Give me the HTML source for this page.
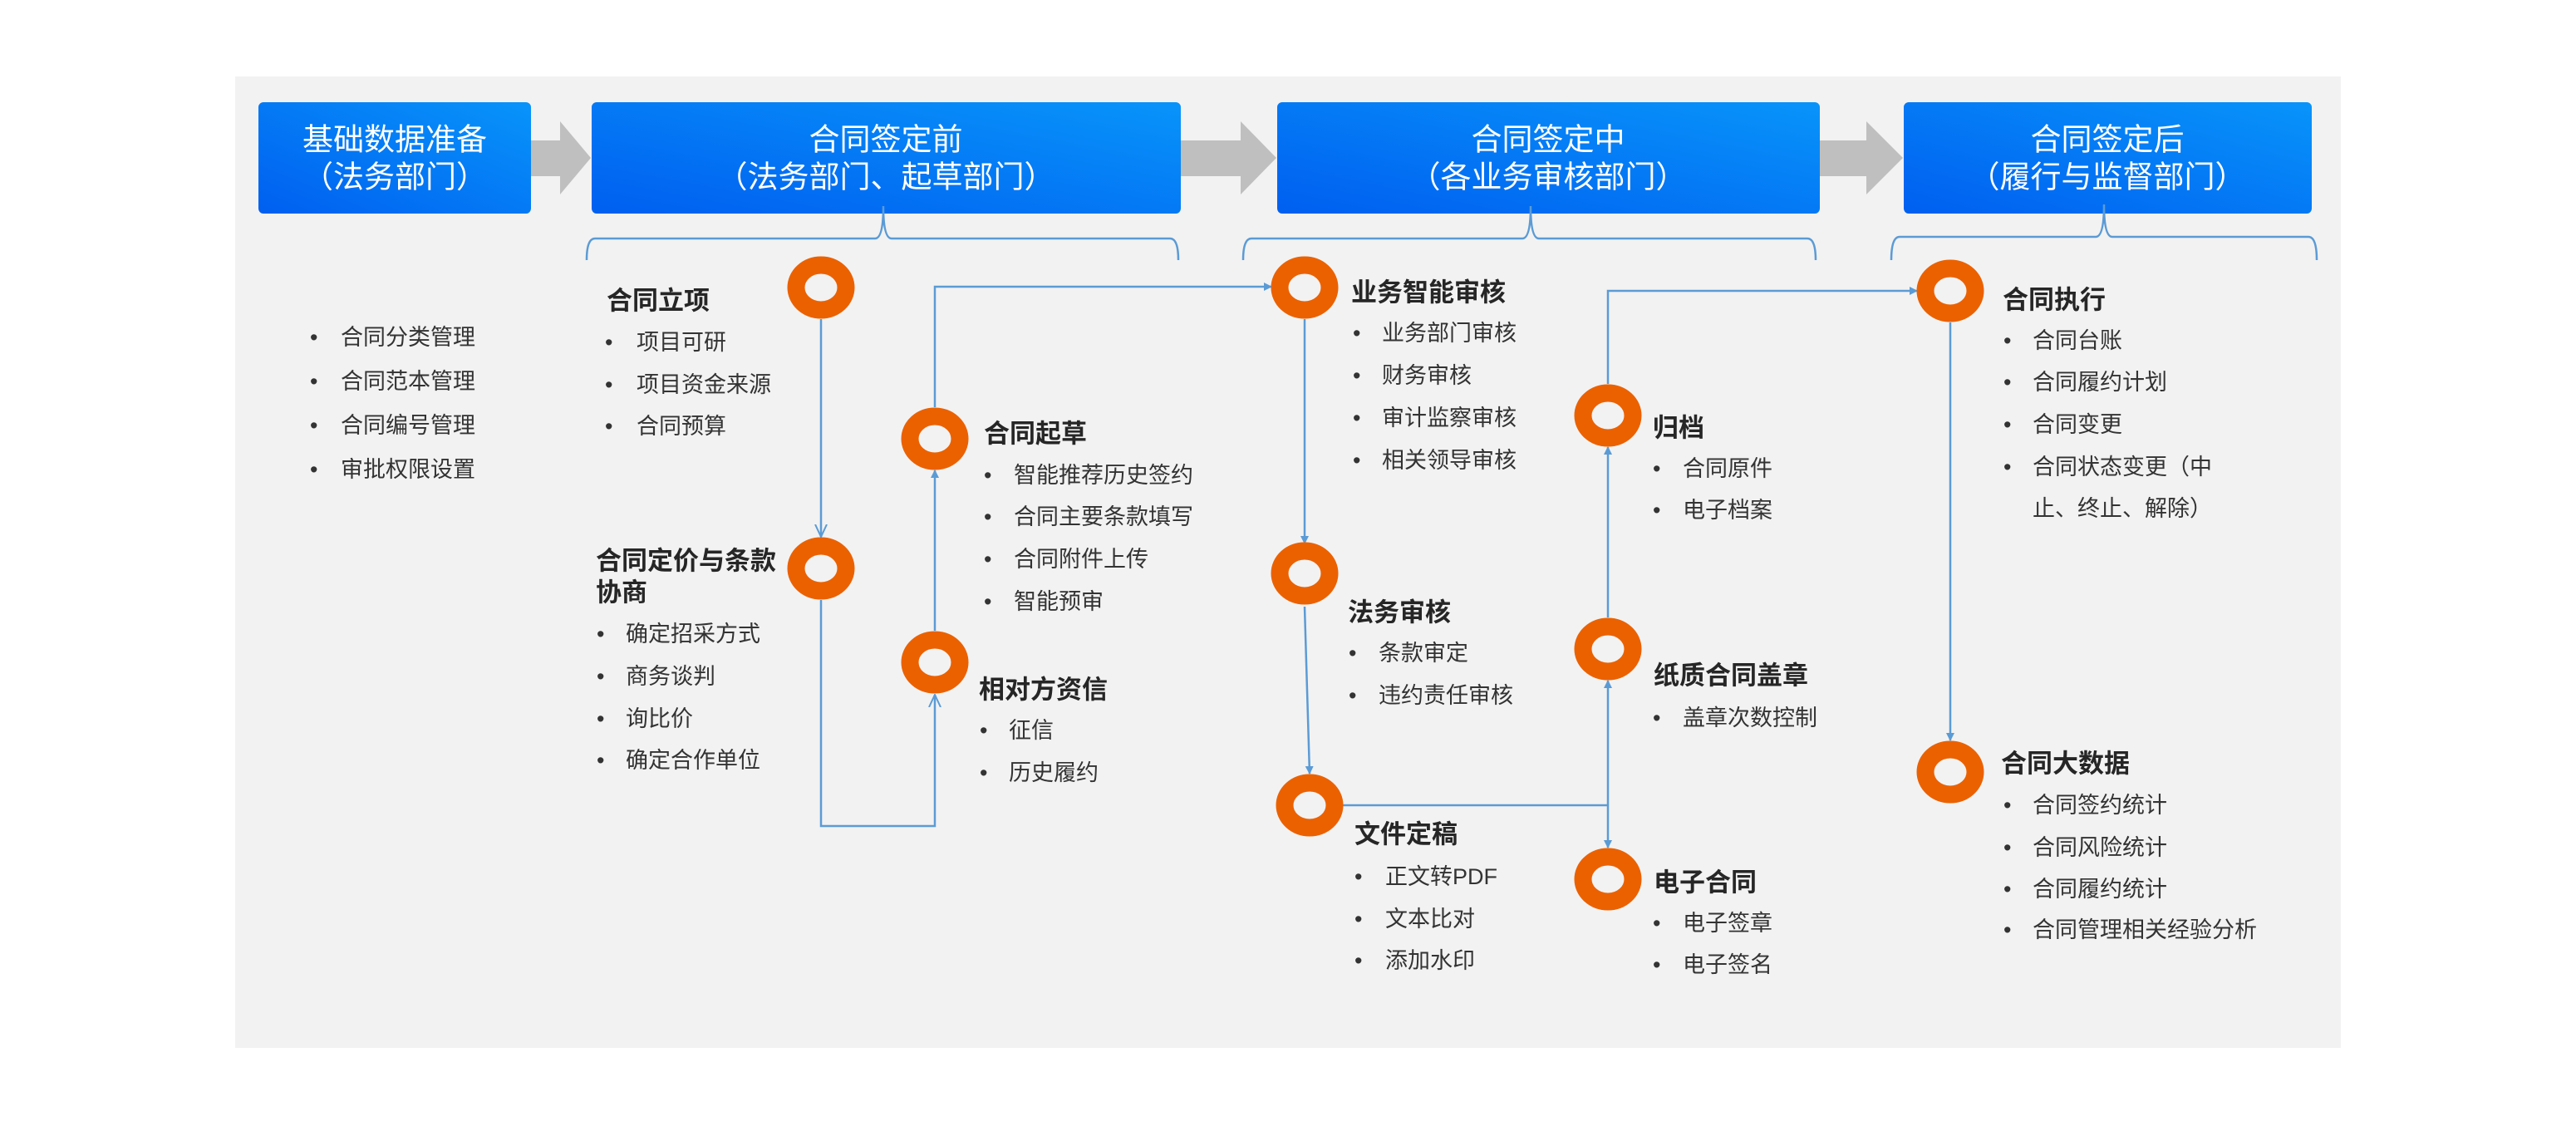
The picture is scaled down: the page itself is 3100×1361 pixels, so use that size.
<!DOCTYPE html>
<html><head><meta charset="utf-8"><style>
html,body{margin:0;padding:0;background:#fff;}
svg{display:block;}
text{font-family:"Liberation Sans","Noto Sans CJK SC",sans-serif;}
.t{font-size:31px;font-weight:bold;fill:#262626;}
.b{font-size:27px;fill:#333;}
.w{font-size:37px;fill:#fff;}
</style></head><body>
<svg width="3100" height="1361" viewBox="0 0 3100 1361" xmlns="http://www.w3.org/2000/svg">
<defs>
<linearGradient id="g" x1="0" y1="1" x2="1" y2="0">
<stop offset="0" stop-color="#005ff0"/><stop offset="1" stop-color="#0894fa"/>
</linearGradient>
<marker id="f" markerWidth="10" markerHeight="10" refX="9" refY="5" orient="auto" markerUnits="userSpaceOnUse" viewBox="0 0 10 10">
<path d="M0,0 L10,5 L0,10 z" fill="#5b9bd5"/></marker>
<marker id="o" markerWidth="16" markerHeight="16" refX="15" refY="8" orient="auto" markerUnits="userSpaceOnUse" viewBox="0 0 16 16">
<path d="M0,1 L15,8 L0,15" fill="none" stroke="#5b9bd5" stroke-width="2"/></marker>
</defs>
<rect x="283" y="92" width="2534" height="1169" fill="#f2f2f2"/>
<!-- grey arrows -->
<g fill="#bfbfbf">
<path d="M639,169 L674,169 L674,146 L711,190 L674,234 L674,212 L639,212 z"/>
<path d="M1421,169 L1493,169 L1493,146 L1536,190 L1493,234 L1493,212 L1421,212 z"/>
<path d="M2190,169 L2246,169 L2246,146 L2290,190 L2246,234 L2246,212 L2190,212 z"/>
</g>
<!-- boxes -->
<rect x="311" y="123" width="328" height="134" rx="6" fill="url(#g)"/>
<rect x="712" y="123" width="709" height="134" rx="6" fill="url(#g)"/>
<rect x="1537" y="123" width="653" height="134" rx="6" fill="url(#g)"/>
<rect x="2291" y="123" width="491" height="134" rx="6" fill="url(#g)"/>
<g class="w" text-anchor="middle" dominant-baseline="central">
<text x="475" y="168">基础数据准备</text><text x="475" y="213">（法务部门）</text>
<text x="1066" y="168">合同签定前</text><text x="1066" y="213">（法务部门、起草部门）</text>
<text x="1863" y="168">合同签定中</text><text x="1863" y="213">（各业务审核部门）</text>
<text x="2536" y="168">合同签定后</text><text x="2536" y="213">（履行与监督部门）</text>
</g>
<!-- brackets -->
<g fill="none" stroke="#5b9bd5" stroke-width="2.5">
<path d="M706,313 Q706,287 716,287 L1053,287 Q1063,287 1063,248 Q1063,287 1073,287 L1408,287 Q1418,287 1418,313"/>
<path d="M1496,313 Q1496,287 1506,287 L1832,287 Q1842,287 1842,248 Q1842,287 1852,287 L2175,287 Q2185,287 2185,313"/>
<path d="M2276,313 Q2276,285 2286,285 L2522,285 Q2532,285 2532,246 Q2532,285 2542,285 L2778,285 Q2788,285 2788,313"/>
</g>
<!-- connectors -->
<g fill="none" stroke="#5b9bd5" stroke-width="2.5">
<path d="M988,384 L988,646" marker-end="url(#o)"/>
<path d="M988,722 L988,994 L1125,994 L1125,836" marker-end="url(#o)"/>
<path d="M1125,759 L1125,566" marker-end="url(#f)"/>
<path d="M1125,490 L1125,345 L1530,345" marker-end="url(#f)"/>
<path d="M1570,384 L1570,654" marker-end="url(#f)"/>
<path d="M1570,730 L1576,931" marker-end="url(#f)"/>
<path d="M1616,969 L1935,969"/>
<path d="M1935,969 L1935,819" marker-end="url(#f)"/>
<path d="M1935,969 L1935,1020" marker-end="url(#f)"/>
<path d="M1935,743 L1935,538" marker-end="url(#f)"/>
<path d="M1935,462 L1935,350 L2307,350" marker-end="url(#f)"/>
<path d="M2347,388 L2347,891" marker-end="url(#f)"/>
</g>
<!-- rings -->
<g fill="none" stroke="#eb6100" stroke-width="21">
<ellipse cx="988" cy="346" rx="30" ry="27"/>
<ellipse cx="988" cy="684" rx="30" ry="27"/>
<ellipse cx="1125" cy="528" rx="30" ry="27"/>
<ellipse cx="1125" cy="797" rx="30" ry="27"/>
<ellipse cx="1570" cy="346" rx="30" ry="27"/>
<ellipse cx="1570" cy="690" rx="30" ry="27"/>
<ellipse cx="1576" cy="969" rx="30" ry="27"/>
<ellipse cx="1935" cy="500" rx="30" ry="27"/>
<ellipse cx="1935" cy="781" rx="30" ry="27"/>
<ellipse cx="1935" cy="1058" rx="30" ry="27"/>
<ellipse cx="2347" cy="350" rx="30" ry="27"/>
<ellipse cx="2347" cy="929" rx="30" ry="27"/>
</g>
<g dominant-baseline="central">
<!-- left list -->
<g class="b">
<text x="373" y="406">•</text><text x="410" y="406">合同分类管理</text>
<text x="373" y="459">•</text><text x="410" y="459">合同范本管理</text>
<text x="373" y="512">•</text><text x="410" y="512">合同编号管理</text>
<text x="373" y="565">•</text><text x="410" y="565">审批权限设置</text>
</g>
<text class="t" x="730" y="362">合同立项</text>
<g class="b">
<text x="728" y="412">•</text><text x="766" y="412">项目可研</text>
<text x="728" y="463">•</text><text x="766" y="463">项目资金来源</text>
<text x="728" y="513">•</text><text x="766" y="513">合同预算</text>
</g>
<text class="t" x="717" y="675">合同定价与条款</text>
<text class="t" x="717" y="713">协商</text>
<g class="b">
<text x="718" y="763">•</text><text x="753" y="763">确定招采方式</text>
<text x="718" y="814">•</text><text x="753" y="814">商务谈判</text>
<text x="718" y="865">•</text><text x="753" y="865">询比价</text>
<text x="718" y="915">•</text><text x="753" y="915">确定合作单位</text>
</g>
<text class="t" x="1184" y="522">合同起草</text>
<g class="b">
<text x="1184" y="572">•</text><text x="1220" y="572">智能推荐历史签约</text>
<text x="1184" y="622">•</text><text x="1220" y="622">合同主要条款填写</text>
<text x="1184" y="673">•</text><text x="1220" y="673">合同附件上传</text>
<text x="1184" y="724">•</text><text x="1220" y="724">智能预审</text>
</g>
<text class="t" x="1178" y="830">相对方资信</text>
<g class="b">
<text x="1179" y="879">•</text><text x="1214" y="879">征信</text>
<text x="1179" y="930">•</text><text x="1214" y="930">历史履约</text>
</g>
<text class="t" x="1626" y="352">业务智能审核</text>
<g class="b">
<text x="1628" y="401">•</text><text x="1663" y="401">业务部门审核</text>
<text x="1628" y="452">•</text><text x="1663" y="452">财务审核</text>
<text x="1628" y="503">•</text><text x="1663" y="503">审计监察审核</text>
<text x="1628" y="554">•</text><text x="1663" y="554">相关领导审核</text>
</g>
<text class="t" x="1622" y="737">法务审核</text>
<g class="b">
<text x="1623" y="786">•</text><text x="1659" y="786">条款审定</text>
<text x="1623" y="837">•</text><text x="1659" y="837">违约责任审核</text>
</g>
<text class="t" x="1630" y="1004">文件定稿</text>
<g class="b">
<text x="1630" y="1055">•</text><text x="1667" y="1055">正文转PDF</text>
<text x="1630" y="1106">•</text><text x="1667" y="1106">文本比对</text>
<text x="1630" y="1156">•</text><text x="1667" y="1156">添加水印</text>
</g>
<text class="t" x="1989" y="515">归档</text>
<g class="b">
<text x="1989" y="564">•</text><text x="2025" y="564">合同原件</text>
<text x="1989" y="614">•</text><text x="2025" y="614">电子档案</text>
</g>
<text class="t" x="1990" y="813">纸质合同盖章</text>
<g class="b">
<text x="1989" y="864">•</text><text x="2025" y="864">盖章次数控制</text>
</g>
<text class="t" x="1990" y="1062">电子合同</text>
<g class="b">
<text x="1989" y="1111">•</text><text x="2025" y="1111">电子签章</text>
<text x="1989" y="1161">•</text><text x="2025" y="1161">电子签名</text>
</g>
<text class="t" x="2410" y="361">合同执行</text>
<g class="b">
<text x="2411" y="410">•</text><text x="2446" y="410">合同台账</text>
<text x="2411" y="460">•</text><text x="2446" y="460">合同履约计划</text>
<text x="2411" y="511">•</text><text x="2446" y="511">合同变更</text>
<text x="2411" y="562">•</text><text x="2446" y="562">合同状态变更（中</text>
<text x="2446" y="612">止、终止、解除）</text>
</g>
<text class="t" x="2408" y="919">合同大数据</text>
<g class="b">
<text x="2411" y="969">•</text><text x="2446" y="969">合同签约统计</text>
<text x="2411" y="1020">•</text><text x="2446" y="1020">合同风险统计</text>
<text x="2411" y="1070">•</text><text x="2446" y="1070">合同履约统计</text>
<text x="2411" y="1119">•</text><text x="2446" y="1119">合同管理相关经验分析</text>
</g>
</g>
</svg>
</body></html>
